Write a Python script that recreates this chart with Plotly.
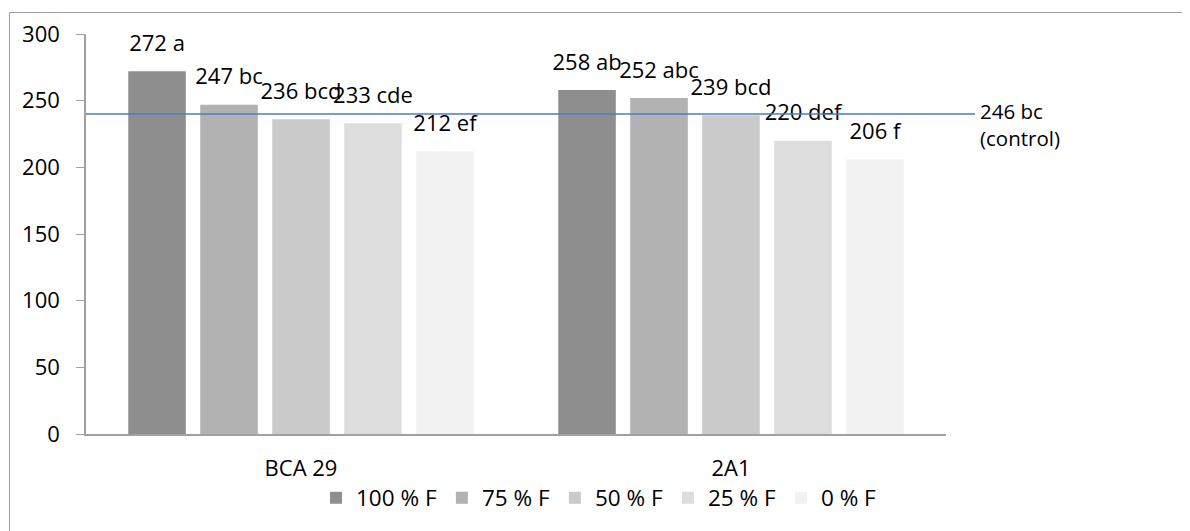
import plotly.graph_objects as go

categories = ["BCA 29", "2A1"]
series_names = ["100 % F", "75 % F", "50 % F", "25 % F", "0 % F"]
values = {
    "100 % F": [272, 258],
    "75 % F": [247, 252],
    "50 % F": [236, 239],
    "25 % F": [233, 220],
    "0 % F": [212, 206],
}
letters = {
    "100 % F": ["a", "ab"],
    "75 % F": ["bc", "abc"],
    "50 % F": ["bcd", "bcd"],
    "25 % F": ["cde", "def"],
    "0 % F": ["ef", "f"],
}
colors = ["#8e8e8e", "#b2b2b2", "#cacaca", "#dddddd", "#f2f2f2"]
control_value = 240
control_label = "246 bc<br>(control)"
y_ticks = [0, 50, 100, 150, 200, 250, 300]

FONT = "Open Sans"
# page body has an 8px margin: figure is drawn 8px right/down of the window origin
OFF = 8
W, H = 1190 - OFF, 531 - OFF
PL, PR, PT, PB = 86 - OFF, 946 - OFF, 34 - OFF, 434 - OFF  # plot area in figure px
PW, PH = PR - PL, PB - PT


def px_x(px):
    return (px - OFF - PL) / PW


def px_y(py):
    return (PB - (py - OFF)) / PH


fig = go.Figure()
for i, (name, col) in enumerate(zip(series_names, colors)):
    vals = values[name]
    fig.add_trace(go.Bar(
        x=categories, y=vals, name=name, offsetgroup=str(i),
        marker=dict(color=col, line=dict(width=0)),
        hoverinfo="skip",
    ))
for i, name in enumerate(series_names):
    vals = values[name]
    txt = [f"{v} {l}" for v, l in zip(vals, letters[name])]
    fig.add_trace(go.Scatter(
        x=categories, y=vals, mode="markers+text", offsetgroup=str(i),
        text=txt, textposition="top center", cliponaxis=False,
        marker=dict(size=22, color="rgba(0,0,0,0)"),
        textfont=dict(family=FONT, size=22, color="#000000"),
        showlegend=False, hoverinfo="skip",
    ))

# control line
fig.add_shape(type="line", xref="paper", yref="y",
              x0=0, x1=px_x(975), y0=control_value, y1=control_value,
              line=dict(color="#4a7ebb", width=1.5))
fig.add_annotation(xref="paper", yref="y", x=px_x(978), y=control_value,
                   text=control_label, showarrow=False, xanchor="left",
                   yanchor="middle", yshift=-10, align="left",
                   font=dict(family=FONT, size=20.5, color="#000000"))
# outer frame
fig.add_shape(type="rect", xref="paper", yref="paper",
              x0=px_x(9.5), x1=px_x(1205), y0=px_y(545), y1=px_y(12.5),
              line=dict(color="#a0a0a0", width=1), fillcolor="rgba(0,0,0,0)",
              layer="below")

fig.update_layout(
    width=W, height=H,
    margin=dict(l=PL, r=W - PR, t=PT, b=H - PB, autoexpand=False),
    paper_bgcolor="white", plot_bgcolor="white",
    barmode="group", bargap=0.163, bargroupgap=0.2,
    scattermode="group", scattergap=0.163,
    font=dict(family=FONT, size=21, color="#000000"),
    showlegend=True,
    legend=dict(orientation="h", x=px_x(316), xanchor="left",
                y=px_y(498), yanchor="middle",
                font=dict(family=FONT, size=22.5, color="#000000"),
                itemwidth=30, tracegroupgap=0, bgcolor="rgba(0,0,0,0)"),
    xaxis=dict(showline=True, linecolor="#a0a0a0", linewidth=1.5,
               ticks="", showgrid=False, ticklabelstandoff=14,
               automargin=False,
               tickfont=dict(family=FONT, size=22)),
    yaxis=dict(range=[0, 300], tickvals=y_ticks, showline=True,
               linecolor="#a0a0a0", linewidth=1.5, ticks="outside",
               ticklen=8, tickcolor="#a0a0a0", showgrid=False,
               zeroline=False, ticklabelstandoff=12, automargin=False,
               tickfont=dict(family=FONT, size=22)),
)

fig.write_html("out.html")
